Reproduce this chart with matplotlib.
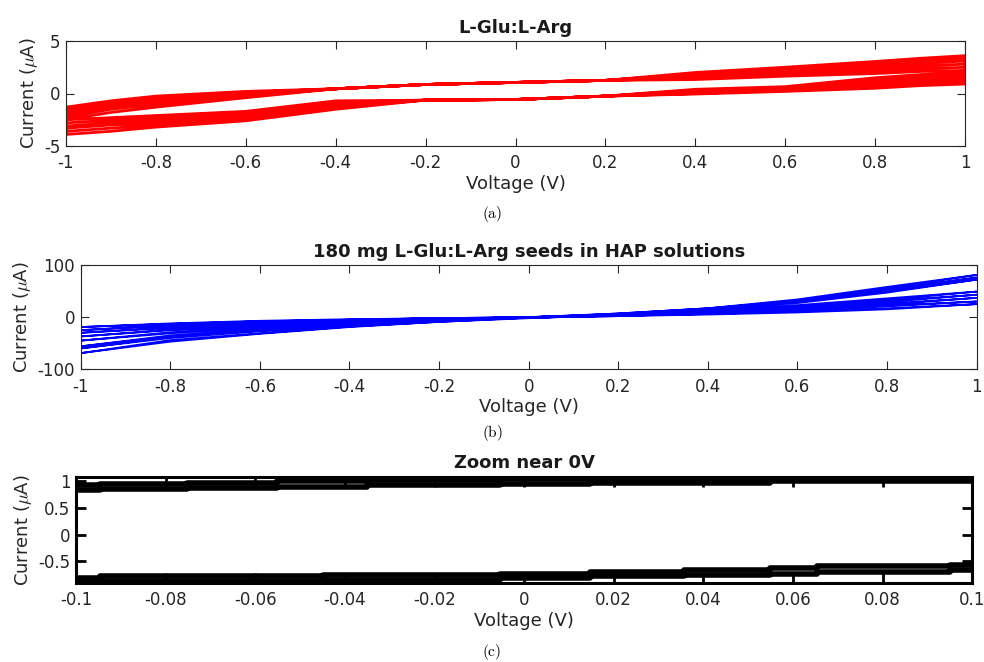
import matplotlib
matplotlib.use("Agg")
import matplotlib.pyplot as plt
from matplotlib.ticker import FuncFormatter

plt.rcParams.update({
    "font.family": "DejaVu Sans",
    "mathtext.fontset": "cm",
    "axes.unicode_minus": False,
})

TEXT = "#262626"

# --- Data ---

# (a) L-Glu:L-Arg, cyclic sweeps; each cycle = forward (lower) + reverse (upper) branch
volt_a = [-1.0, -0.9, -0.8, -0.6, -0.4, -0.2, 0.0, 0.2, 0.4, 0.6, 0.8, 0.9, 1.0]
glu_lower = [
    [-2.50, -2.30, -2.10, -1.70, -0.70, -0.63, -0.57, -0.25, 0.40, 0.65, 1.50, 1.80, 2.00],
    [-2.80, -2.55, -2.35, -1.90, -0.85, -0.63, -0.57, -0.25, 0.30, 0.55, 1.30, 1.60, 1.80],
    [-3.10, -2.80, -2.60, -2.10, -1.00, -0.63, -0.57, -0.25, 0.20, 0.45, 1.10, 1.40, 1.60],
    [-3.30, -3.00, -2.80, -2.25, -1.15, -0.63, -0.57, -0.25, 0.10, 0.35, 0.90, 1.20, 1.40],
    [-3.60, -3.30, -3.00, -2.40, -1.30, -0.63, -0.57, -0.25, 0.00, 0.30, 0.70, 1.00, 1.15],
    [-3.90, -3.60, -3.20, -2.60, -1.50, -0.63, -0.57, -0.25, -0.05, 0.20, 0.50, 0.75, 0.90],
]
glu_upper = [
    [-1.30, -0.70, -0.25, 0.20, 0.45, 0.86, 1.05, 1.25, 2.00, 2.50, 3.05, 3.35, 3.60],
    [-1.55, -0.90, -0.45, 0.10, 0.45, 0.86, 1.05, 1.25, 1.85, 2.30, 2.80, 3.10, 3.35],
    [-1.80, -1.10, -0.65, 0.00, 0.45, 0.86, 1.05, 1.25, 1.70, 2.10, 2.55, 2.85, 3.10],
    [-2.00, -1.30, -0.85, -0.15, 0.45, 0.86, 1.05, 1.25, 1.60, 1.95, 2.35, 2.60, 2.80],
    [-2.25, -1.50, -1.05, -0.25, 0.45, 0.86, 1.05, 1.25, 1.45, 1.80, 2.15, 2.35, 2.50],
    [-2.50, -1.80, -1.30, -0.40, 0.45, 0.86, 1.05, 1.25, 1.33, 1.65, 1.90, 2.10, 2.20],
]

# (b) seeds in HAP solutions
volt_b = [-1.0, -0.8, -0.6, -0.4, -0.2, 0.0, 0.2, 0.4, 0.6, 0.8, 1.0]
hap_fwd = [
    [-69, -44, -31, -18, -9, -2, 5, 15, 31, 55, 81],
    [-60, -38, -26, -15, -7, -1, 6, 15, 29, 51, 76],
    [-56, -35, -23, -13, -6, -1, 5, 14, 27, 47, 72],
    [-45, -29, -19, -11, -5, -1, 4, 11, 21, 33, 49],
    [-37, -24, -16, -9, -4, -1, 3, 9, 18, 29, 43],
    [-30, -19, -12, -7, -3, -1, 3, 8, 15, 24, 37],
    [-25, -15, -9, -5, -2, -1, 2, 7, 13, 21, 30],
    [-19, -12, -7, -4, -2, -1, 2, 5, 9, 15, 25],
]
hap_rev = [
    [-69, -47, -32, -19, -9, -1, 7, 17, 34, 58, 81],
    [-60, -40, -27, -16, -7, 0, 7, 17, 31, 53, 76],
    [-56, -37, -24, -14, -6, 0, 6, 15, 29, 49, 72],
    [-45, -31, -20, -12, -5, 0, 5, 12, 23, 36, 49],
    [-37, -25, -17, -10, -4, 0, 4, 10, 19, 31, 43],
    [-30, -21, -13, -8, -3, 0, 4, 9, 16, 26, 37],
    [-25, -16, -10, -6, -2, 0, 3, 8, 14, 22, 30],
    [-19, -13, -8, -5, -2, 0, 3, 6, 11, 17, 25],
]

# (c) zoom near 0 V, stepped readings
zoom_v_up = [-0.1, -0.0946, -0.0753, -0.0552, -0.0351, -0.0054, 0.0147, 0.0549, 0.0854, 0.1]
zoom_up = [
    [0.94, 0.95, 0.98, 1.01, 1.03, 1.04, 1.05, 1.06, 1.06, 1.06],
    [0.84, 0.86, 0.88, 0.90, 0.93, 0.95, 0.98, 1.00, 1.01, 1.01],
]
zoom_v_lo = [-0.1, -0.0946, -0.0448, -0.0054, 0.0147, 0.0356, 0.0549, 0.0653, 0.0951, 0.1]
zoom_lo = [
    [-0.81, -0.78, -0.76, -0.73, -0.69, -0.67, -0.62, -0.59, -0.56, -0.56],
    [-0.88, -0.86, -0.84, -0.82, -0.78, -0.76, -0.73, -0.70, -0.66, -0.66],
]

ylabel = r"Current ($\mu$A)"
xlabel = "Voltage (V)"


def loop_path(volts, fwd_list, rev_list):
    vv, ii = [], []
    for fwd, rev in zip(fwd_list, rev_list):
        vv += volts + volts[::-1]
        ii += fwd + rev[::-1]
    return vv, ii


def style(ax, xticks, yticks, frame="#262626", spine_w=0.8, tick_len=5.8, tick_w=0.8):
    fmt = FuncFormatter(lambda v, _: f"{v:g}")
    ax.set_xticks(xticks)
    ax.set_yticks(yticks)
    ax.xaxis.set_major_formatter(fmt)
    ax.yaxis.set_major_formatter(fmt)
    ax.tick_params(direction="in", top=True, right=True, length=tick_len,
                   width=tick_w, color=frame, labelsize=12, labelcolor=TEXT)
    ax.tick_params(axis="x", pad=6)
    ax.tick_params(axis="y", pad=4)
    for s in ax.spines.values():
        s.set_linewidth(spine_w)
        s.set_color(frame)
    ax.set_xlabel(xlabel, fontsize=13, color=TEXT, labelpad=2)
    ax.set_ylabel(ylabel, fontsize=13, color=TEXT, labelpad=3)


fig = plt.figure(figsize=(9.84, 6.62), dpi=100)

# --- (a) ---
ax_a = fig.add_axes([66 / 984, (662 - 146) / 662, 899 / 984, 105 / 662])
v, i = loop_path(volt_a, glu_lower, glu_upper)
ax_a.plot(v, i, color="#ff0000", lw=2.0)
ax_a.set_xlim(-1, 1)
ax_a.set_ylim(-5, 5)
style(ax_a, [-1, -0.8, -0.6, -0.4, -0.2, 0, 0.2, 0.4, 0.6, 0.8, 1], [-5, 0, 5])
ax_a.set_title("L-Glu:L-Arg", fontsize=13, fontweight="bold", color="#1a1a1a")

# --- (b) ---
ax_b = fig.add_axes([80.7 / 984, (662 - 369.3) / 662, 896 / 984, 104.3 / 662])
v, i = loop_path(volt_b, hap_fwd, hap_rev)
ax_b.plot(v, i, color="#0000ff", lw=1.3)
ax_b.set_xlim(-1, 1)
ax_b.set_ylim(-100, 100)
style(ax_b, [-1, -0.8, -0.6, -0.4, -0.2, 0, 0.2, 0.4, 0.6, 0.8, 1], [-100, 0, 100])
ax_b.set_title("180 mg L-Glu:L-Arg seeds in HAP solutions", fontsize=13,
               fontweight="bold", color="#1a1a1a")

# --- (c) ---
ax_c = fig.add_axes([76 / 984, (662 - 582.7) / 662, 896.3 / 984, 106 / 662])
for up in zoom_up:
    ax_c.plot(zoom_v_up, up, color="black", lw=4, drawstyle="steps-post")
for lo in zoom_lo:
    ax_c.plot(zoom_v_lo, lo, color="black", lw=4, drawstyle="steps-post")
ax_c.set_xlim(-0.1, 0.1)
ax_c.set_ylim(-0.9, 1.09)
style(ax_c, [-0.1, -0.08, -0.06, -0.04, -0.02, 0, 0.02, 0.04, 0.06, 0.08, 0.1],
      [-0.5, 0, 0.5, 1], frame="black", spine_w=2.2, tick_len=7.5, tick_w=2)
ax_c.set_title("Zoom near 0V", fontsize=13, fontweight="bold", color="#1a1a1a")

# sub-figure captions
for y, tag in [(214, "a"), (433, "b"), (652, "c")]:
    fig.text(0.5, 1 - y / 662, rf"$\mathrm{{({tag})}}$", ha="center", va="center",
             fontsize=11, color="black")

fig.savefig("out.png", dpi=100)
